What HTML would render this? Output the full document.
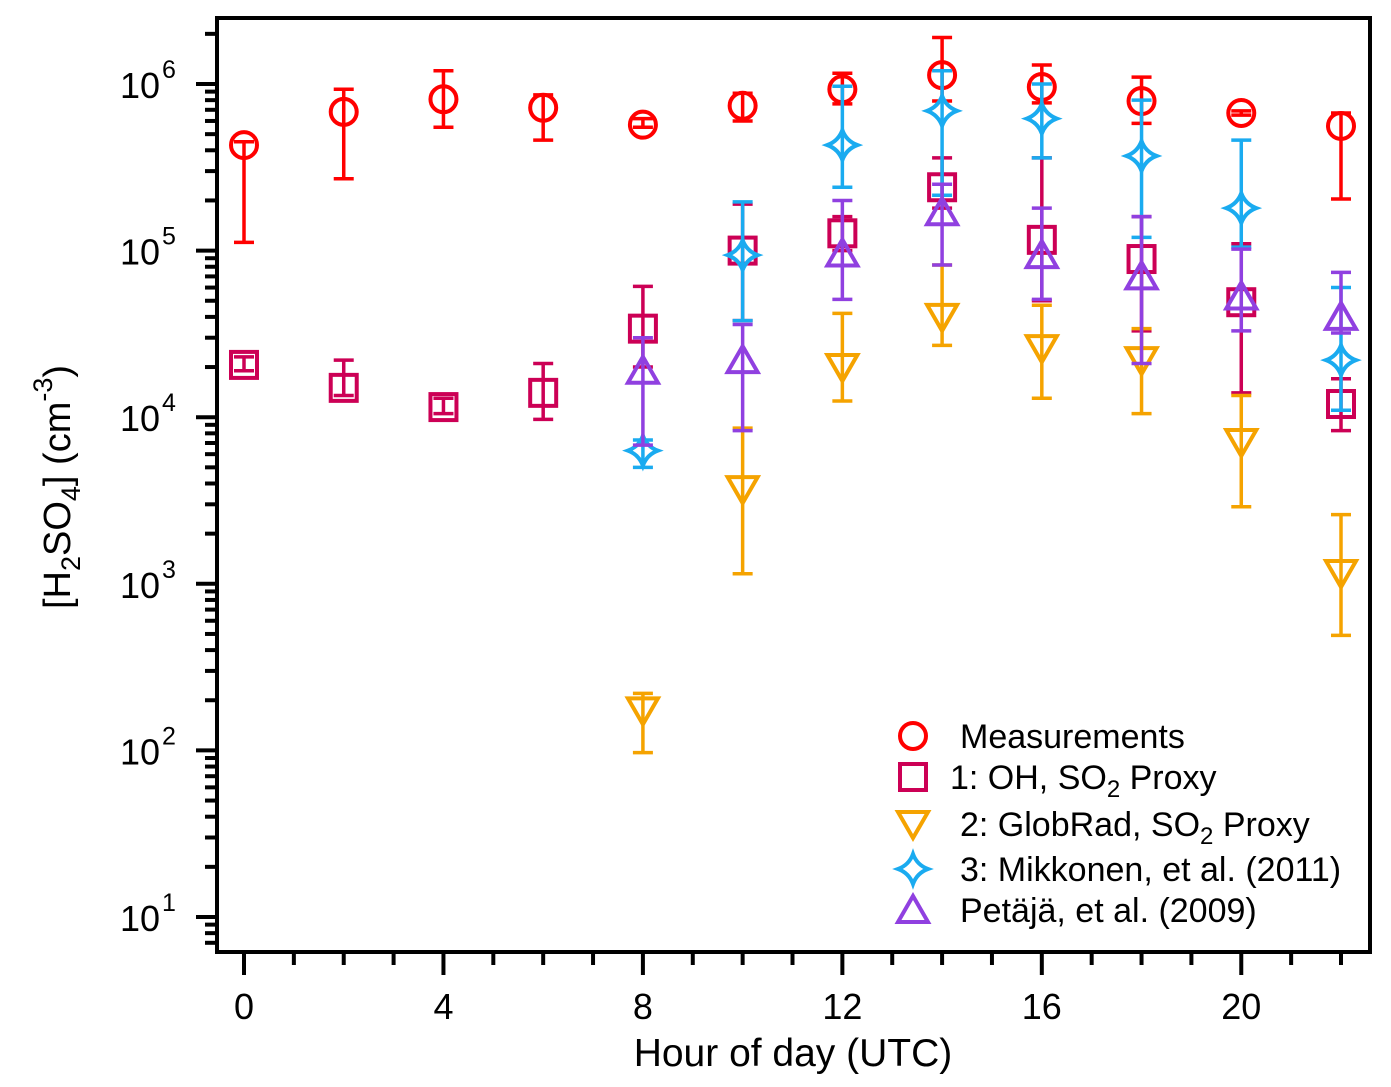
<!DOCTYPE html>
<html><head><meta charset="utf-8"><style>
body{margin:0;background:#fff}
svg{display:block;font-family:"Liberation Sans",Arial,sans-serif}
</style></head><body>
<svg id="chart" width="1391" height="1087" viewBox="0 0 1391 1087">
<g id="marks"></g>
<rect x="217" y="18" width="1153" height="934" fill="none" stroke="#000" stroke-width="4"/>
<g id="axes"></g>
<text x="793" y="1066" font-size="39" text-anchor="middle">Hour of day (UTC)</text>
<text transform="translate(70,487) rotate(-90)" font-size="38" text-anchor="middle">[H<tspan font-size="27" dy="10">2</tspan><tspan dy="-10">SO</tspan><tspan font-size="27" dy="10">4</tspan><tspan dy="-10">] (cm</tspan><tspan font-size="27" dy="-18">-3</tspan><tspan dy="18">)</tspan></text>
<g id="legend" font-size="34"></g>
</svg>
<script>
const hours=[0,2,4,6,8,10,12,14,16,18,20,22];
const measVal=[4.3e5,6.8e5,8.1e5,7.2e5,5.7e5,7.4e5,9.3e5,1.13e6,9.6e5,7.9e5,6.7e5,5.6e5];
const measHi=[4.5e5,9.3e5,1.2e6,8.6e5,6.2e5,8.8e5,1.16e6,1.9e6,1.3e6,1.1e6,6.9e5,6.7e5];
const measLo=[1.12e5,2.7e5,5.5e5,4.6e5,5.5e5,6.0e5,7.6e5,7.9e5,7.7e5,5.8e5,6.5e5,2.04e5];
const p1Val=[2.06e4,1.5e4,1.15e4,1.4e4,3.4e4,1.0e5,1.27e5,2.4e5,1.16e5,8.9e4,4.9e4,1.2e4];
const p1Hi=[2.3e4,2.2e4,1.3e4,2.1e4,6.1e4,1.9e5,1.6e5,3.6e5,3.6e5,1.6e5,1.1e5,1.7e4];
const p1Lo=[1.9e4,1.35e4,1.05e4,9.7e3,2.0e4,3.8e4,1.0e5,1.8e5,5.0e4,3.3e4,1.4e4,8.3e3];
const p2Hours=[8,10,12,14,16,18,20,22];
const p2Val=[174,3.7e3,2.0e4,4.0e4,2.6e4,2.2e4,7.1e3,1.16e3];
const p2Hi=[220,8.6e3,4.2e4,8.2e4,4.7e4,3.4e4,1.35e4,2.6e3];
const p2Lo=[97,1.15e3,1.25e4,2.7e4,1.3e4,1.05e4,2.9e3,490];
const mkVal=[6.3e3,9.4e4,4.3e5,6.9e5,6.2e5,3.7e5,1.8e5,2.2e4];
const mkHi=[7.3e3,1.96e5,9.7e5,1.2e6,1.0e6,8.0e5,4.6e5,6.0e4];
const mkLo=[5.0e3,3.8e4,2.4e5,2.15e5,3.6e5,1.2e5,1.05e5,1.1e4];
const ptVal=[1.9e4,2.2e4,9.6e4,1.7e5,9.4e4,7.0e4,5.3e4,4.0e4];
const ptHi=[3.0e4,3.6e4,2.0e5,2.5e5,1.8e5,1.6e5,1.02e5,7.4e4];
const ptLo=[6.8e3,8.3e3,5.1e4,8.2e4,5.1e4,2.1e4,3.3e4,3.2e4];
const xTicks=[0,4,8,12,16,20];
const yTicks=[1,2,3,4,5,6];

const NS="http://www.w3.org/2000/svg";
const X=h=>244+h*(1341-244)/22;
const Y=v=>84+(6-Math.log10(v))*166.6;
function mk(tag,attrs,parent){const e=document.createElementNS(NS,tag);for(const k in attrs)e.setAttribute(k,attrs[k]);parent.appendChild(e);return e;}
const marks=document.getElementById('marks');
const axes=document.getElementById('axes');

function marker(type,cx,cy,col,g){
  const sw=4;
  if(type==='circle')return mk('circle',{cx,cy,r:13,fill:'none',stroke:col,'stroke-width':sw},g);
  if(type==='square')return mk('rect',{x:cx-13,y:cy-13,width:26,height:26,fill:'none',stroke:col,'stroke-width':sw},g);
  if(type==='down')return mk('polygon',{points:`${cx-15},${cy-12} ${cx+15},${cy-12} ${cx},${cy+14}`,fill:'none',stroke:col,'stroke-width':sw},g);
  if(type==='up')return mk('polygon',{points:`${cx-15},${cy+12} ${cx+15},${cy+12} ${cx},${cy-14}`,fill:'none',stroke:col,'stroke-width':sw},g);
  if(type==='star'){const r=15,q=4;return mk('path',{d:`M${cx},${cy-r} Q${cx+q},${cy-q} ${cx+r},${cy} Q${cx+q},${cy+q} ${cx},${cy+r} Q${cx-q},${cy+q} ${cx-r},${cy} Q${cx-q},${cy-q} ${cx},${cy-r}Z`,fill:'none',stroke:col,'stroke-width':sw},g);}
}
function series(name,hs,vals,hi,lo,col,type){
  const g=mk('g',{},marks);
  
  
  hs.forEach((h,i)=>{
    const x=X(h);
    const eb=mk('path',{d:`M${x},${Y(hi[i])}V${Y(lo[i])}M${x-10},${Y(hi[i])}H${x+10}M${x-10},${Y(lo[i])}H${x+10}`,stroke:col,'stroke-width':3.5,fill:'none'},g);
    
    
    const m=marker(type,x,Y(vals[i]),col,g);
    
    
  });
}
const C={meas:'#ff0000',p1:'#cc0055',p2:'#f5a300',mk:'#1aabf0',pt:'#9040e0'};
series('measurements',hours,measVal,measHi,measLo,C.meas,'circle');
series('proxy-1',hours,p1Val,p1Hi,p1Lo,C.p1,'square');
series('proxy-2',p2Hours,p2Val,p2Hi,p2Lo,C.p2,'down');
series('mikkonen',p2Hours,mkVal,mkHi,mkLo,C.mk,'star');
series('petaja',p2Hours,ptVal,ptHi,ptLo,C.pt,'up');

for(let h=0;h<=22;h++){
  const major=h%4===0;
  const t=mk('line',{x1:X(h),x2:X(h),y1:952,y2:major?975:965,stroke:'#000','stroke-width':4},axes);
  
  
}
xTicks.forEach(h=>{
  const t=mk('text',{x:X(h),y:1019,'font-size':36,'text-anchor':'middle'},axes);
  t.textContent=h;
  
  
});
for(let d=0;d<=6;d++){
  for(let k=1;k<10;k++){
    const v=k*Math.pow(10,d);const y=Y(v);
    if(y<20||y>950)continue;
    const t=mk('line',{x1:k===1?196:205,x2:217,y1:y,y2:y,stroke:'#000','stroke-width':4},axes);
    
    
  }
}
yTicks.forEach(d=>{
  const t=mk('text',{x:160,y:Y(Math.pow(10,d))+14,'font-size':36,'text-anchor':'end'},axes);
  t.textContent='10';
  
  
  const s=mk('text',{x:162,y:Y(Math.pow(10,d))-6,'font-size':25},axes);
  s.textContent=d;
  
  
});
const leg=document.getElementById('legend');
const entries=[['circle',C.meas,'Measurements',736,960],['square',C.p1,'1: OH, SO<tspan font-size="24" dy="8">2</tspan><tspan dy="-8"> Proxy</tspan>',777,950],['down',C.p2,'2: GlobRad, SO<tspan font-size="24" dy="8">2</tspan><tspan dy="-8"> Proxy</tspan>',824,960],['star',C.mk,'3: Mikkonen, et al. (2011)',869,960],['up',C.pt,'Petäjä, et al. (2009)',910,960]];
entries.forEach(e=>{
  const g=mk('g',{},leg);
  
  
  marker(e[0],913,e[3],e[1],g);
  const t=mk('text',{x:e[4],y:e[3]+12},g);
  t.innerHTML=e[2];
});
</script>
</body></html>
